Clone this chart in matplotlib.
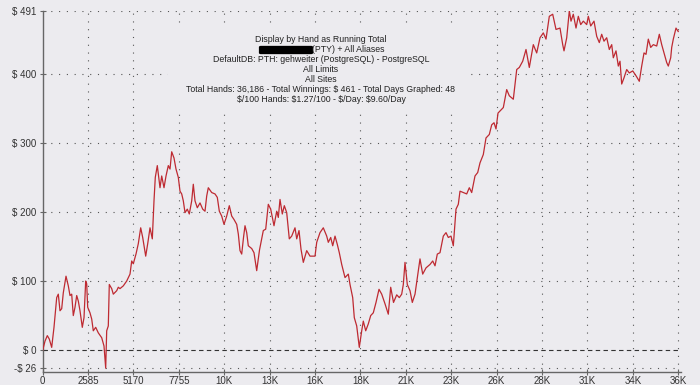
import matplotlib
matplotlib.use('Agg')
import matplotlib.pyplot as plt
from matplotlib.patches import FancyBboxPatch, Rectangle

# running total (hands, $)
hands = [0, 131, 262, 376, 512, 643, 797, 888, 985, 1082, 1173, 1327, 1458, 1554, 1651, 1742,
         1839, 1936, 2027, 2124, 2255, 2352, 2448, 2505, 2562, 2693, 2790, 2881, 3018, 3166, 3359,
         3490, 3587, 3644, 3735, 3792, 3929, 4020, 4214, 4305, 4401, 4589, 4783, 4874, 4971, 5068,
         5159, 5312, 5443, 5580, 5694, 5865, 5979, 6110, 6241, 6337, 6411, 6525, 6679, 6776, 6907,
         7021, 7152, 7249, 7345, 7476, 7590, 7721, 7818, 7915, 8006, 8103, 8234, 8347, 8484, 8575,
         8672, 8803, 8957, 9110, 9241, 9338, 9429, 9623, 9811, 9942, 10056, 10192, 10323, 10477,
         10625, 10762, 10893, 11046, 11138, 11234, 11331, 11434, 11519, 11616, 11707, 11900, 12031,
         12185, 12345, 12561, 12698, 12846, 12982, 13170, 13324, 13415, 13512, 13643, 13757, 13893,
         14041, 14178, 14366, 14463, 14594, 14708, 14839, 15032, 15220, 15505, 15602, 15789, 15977,
         16171, 16262, 16399, 16513, 16644, 16774, 16888, 17025, 17213, 17401, 17498, 17651, 17742,
         17879, 18027, 18164, 18255, 18392, 18540, 18676, 18824, 18978, 19149, 19303, 19491, 19678,
         19815, 19975, 20157, 20305, 20441, 20533, 20629, 20760, 20914, 21045, 21199, 21330, 21483,
         21637, 21825, 22053, 22207, 22338, 22469, 22622, 22810, 22964, 23095, 23249, 23380, 23533,
         23664, 23761, 23949, 24143, 24291, 24427, 24615, 24769, 24900, 25088, 25241, 25429, 25566,
         25697, 25811, 25925, 26039, 26227, 26420, 26568, 26796, 26990, 27138, 27331, 27519, 27707,
         27935, 28128, 28316, 28504, 28658, 28846, 29039, 29227, 29455, 29609, 29683, 29837, 29985,
         30081, 30212, 30366, 30497, 30634, 30782, 30975, 31067, 31203, 31391, 31545, 31693, 31829,
         31960, 32114, 32262, 32399, 32490, 32644, 32775, 32871, 32968, 33099, 33253, 33401, 33595,
         33783, 33970, 34107, 34238, 34352, 34483, 34620, 34768, 34961, 35109, 35246, 35377, 35531,
         35622, 35758, 35815, 35906, 36060, 36186]
winnings = [0, 13, 21, 16, 4, 33, 76, 81, 57, 60, 83, 107, 93, 79, 81, 50,
            62, 79, 71, 57, 33, 47, 100, 96, 62, 54, 45, 28, 33, 25, 18,
            6, -26, 28, 35, 95, 89, 81, 86, 91, 89, 93, 100, 105, 110, 129,
            125, 139, 154, 177, 163, 136, 154, 177, 161, 216, 250, 267, 235, 252, 235,
            252, 267, 262, 287, 278, 262, 250, 230, 226, 216, 199, 204, 197, 216, 240,
            216, 206, 213, 204, 201, 223, 235, 228, 226, 221, 201, 194, 182, 194,
            209, 194, 189, 182, 168, 144, 139, 163, 180, 170, 151, 147, 141,
            115, 145, 173, 175, 211, 204, 180, 201, 192, 218, 197, 209, 199,
            161, 165, 177, 161, 173, 146, 127, 144, 136, 136, 156, 170, 177,
            165, 156, 163, 151, 165, 153, 141, 124, 105, 110, 95, 76, 47,
            35, 4, 28, 42, 28, 38, 50, 54, 69, 88, 81, 67, 52,
            91, 69, 80, 76, 81, 95, 127, 95, 86, 69, 81, 105, 132,
            110, 119, 124, 129, 122, 139, 141, 165, 170, 163, 165, 151, 204,
            211, 230, 228, 226, 235, 228, 252, 257, 271, 283, 307, 312, 326,
            329, 320, 343, 346, 351, 377, 368, 363, 406, 409, 418, 435, 409,
            442, 430, 452, 459, 450, 483, 486, 464, 466, 442, 433, 452, 491,
            476, 486, 466, 483, 471, 476, 471, 483, 469, 476, 454, 445, 457,
            447, 452, 435, 442, 423, 433, 411, 418, 385, 394, 406, 401, 404,
            397, 389, 411, 430, 428, 450, 438, 442, 440, 457, 442, 430, 416,
            411, 423, 438, 450, 466, 461]

x_ticks = [0, 2585, 5170, 7755, 10340, 12925, 15510, 18095, 20680, 23265, 25850, 28435, 31020, 33605, 36190]
x_labels = ['0', '2585', '5170', '7755', '10K', '13K', '16K', '18K', '21K', '23K', '26K', '28K', '31K', '34K', '36K']
y_ticks = [-26, 0, 100, 200, 300, 400, 491]
y_labels = ['-$ 26', '$ 0', '$ 100', '$ 200', '$ 300', '$ 400', '$ 491']

info = ['Display by Hand as Running Total',
        '(PTY) + All Aliases',
        'DefaultDB: PTH: gehweiter (PostgreSQL) - PostgreSQL',
        'All Limits',
        'All Sites',
        'Total Hands: 36,186 - Total Winnings: $ 461 - Total Days Graphed: 48',
        '$/100 Hands: $1.27/100 - $/Day: $9.60/Day']

bg = '#ECEBEF'
plt.rcParams['font.family'] = ['Liberation Sans', 'DejaVu Sans']
plt.rcParams['text.parse_math'] = False

fig = plt.figure(figsize=(7, 3.85), dpi=100, facecolor=bg)
ax = fig.add_axes([0.061, 0.034, 0.912, 0.938], facecolor=bg)

ax.plot(hands, winnings, color='#BE2A32', lw=0.9, zorder=3)

ax.set_xlim(0, 36350)
ax.set_ylim(-31.5, 491)
ax.set_xticks(x_ticks)
ax.set_xticklabels(x_labels)
ax.set_yticks(y_ticks)
ax.set_yticklabels(y_labels)

# dotted grid, dashed zero line
for yv in y_ticks:
    if yv == 0:
        ax.axhline(yv, color='#333333', lw=0.8, ls=(0, (4, 3)), zorder=2)
    else:
        ax.axhline(yv, color='#555555', lw=0.8, ls=(0, (1, 6)), zorder=1)
for xv in x_ticks[1:]:
    ax.axvline(xv, color='#555555', lw=0.8, ls=(0, (1, 6)), zorder=1)

for s in ['top', 'right']:
    ax.spines[s].set_visible(False)
for s in ['left', 'bottom']:
    ax.spines[s].set_color('#666666')
    ax.spines[s].set_linewidth(1.0)
ax.tick_params(direction='inout', length=5, width=0.8, color='#666666',
               labelsize=7, labelcolor='#333333')
ax.tick_params(axis='x', pad=0.5)
ax.tick_params(axis='y', pad=2)

# header block sits on an opaque panel that hides the grid
fig.patches.append(Rectangle((168 / 700, 1 - 112 / 385), 300 / 700, 86 / 385,
                             transform=fig.transFigure, fc=bg, ec='none', zorder=1))
ys = [40, 50, 60, 70, 79, 89, 99]
for i, t in enumerate(info):
    if i == 1:
        fig.text(312 / 700, 1 - ys[i] / 385, t, ha='left', va='center', fontsize=6.3, color='#222222')
    else:
        fig.text(321 / 700, 1 - ys[i] / 385, t, ha='center', va='center', fontsize=6.3, color='#222222')
# blacked-out name
fig.patches.append(FancyBboxPatch((261 / 700, 1 - 53 / 385), 50 / 700, 6 / 385,
                                  boxstyle='round,pad=0.003', transform=fig.transFigure,
                                  fc='black', ec='none', zorder=2))

fig.savefig('out.png', dpi=100, facecolor=bg)
